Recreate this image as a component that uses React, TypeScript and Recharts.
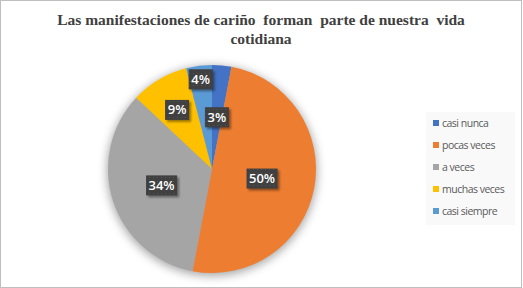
import React from 'react';
import { PieChart, Pie, Cell, Legend } from 'recharts';

const categories = ['casi nunca', 'pocas veces', 'a veces', 'muchas veces', 'casi siempre'];
const values = [3, 50, 34, 9, 4];
const colors = ['#4472C4', '#ED7D31', '#A5A5A5', '#FFC000', '#5B9BD5'];
const titleLines = ['Las manifestaciones de cariño  forman  parte de nuestra  vida', 'cotidiana'];

// how far out each data label sits (share of the radius), Excel "best fit" look
const labelDistance = [0.5, 0.49, 0.51, 0.66, 0.87];

const data = categories.map((name, i) => ({ name, value: values[i] }));
const shadowData = [{ name: 'shadow', value: 1 }];

const RAD = Math.PI / 180;

const renderLabel = (props: any) => {
    const { cx, cy, midAngle, outerRadius, index, value } = props;
    const r = outerRadius * labelDistance[index];
    const x = cx + r * Math.cos(-midAngle * RAD);
    const y = cy + r * Math.sin(-midAngle * RAD);
    const text = `${value}%`;
    const w = text.length * 7 + 10;
    const h = 20;
    return (
        <g>
            <rect x={x - w / 2 + 2} y={y - h / 2 + 2} width={w} height={h} fill="#000" opacity={0.4} filter="url(#lblShadow)" />
            <rect x={x - w / 2} y={y - h / 2} width={w} height={h} fill="#404040" />
            <rect x={x - w / 2} y={y - h / 2} width={w} height={h} fill="url(#dots)" />
            <text
                x={x}
                y={y + 1}
                fill="#fff"
                fontSize={13}
                fontWeight={600}
                fontFamily="'Open Sans', sans-serif"
                textAnchor="middle"
                dominantBaseline="middle"
            >
                {text}
            </text>
        </g>
    );
};

const renderLegend = () => (
    <div style={{ background: '#f9f9f9', width: 89, height: 113 }}>
        {categories.map((c, i) => (
            <div key={c} style={{ height: 22, display: 'flex', alignItems: 'center', paddingLeft: 7 }}>
                <span style={{ width: 6, height: 6, background: colors[i], marginRight: 3, display: 'inline-block' }} />
                <span style={{ fontSize: 10.5, color: '#595959', fontFamily: "'Open Sans', sans-serif", letterSpacing: -0.5, whiteSpace: 'nowrap' }}>
                    {c}
                </span>
            </div>
        ))}
    </div>
);

export default function App() {
    return (
        <div style={{ position: 'absolute', left: 0, top: 0, width: 523, height: 288, background: '#fff' }}>
            <div
                style={{
                    position: 'absolute',
                    left: 0,
                    top: 0,
                    width: 522,
                    height: 288,
                    boxSizing: 'border-box',
                    border: '1px solid #bfbfbf'
                }}
            />
            <div
                style={{
                    position: 'absolute',
                    top: 10,
                    left: 0,
                    width: 522,
                    textAlign: 'center',
                    fontFamily: "'Liberation Serif', serif",
                    fontWeight: 'bold',
                    fontSize: 15.5,
                    lineHeight: '19px',
                    color: '#404040',
                    whiteSpace: 'pre'
                }}
            >
                {titleLines[0]}
                <br />
                {titleLines[1]}
            </div>
            <PieChart
                width={523}
                height={288}
                margin={{ top: 0, right: 0, bottom: 0, left: 0 }}
                style={{ position: 'absolute', left: 0, top: 0 }}
            >
                <defs>
                    <filter id="pieShadow" x="-20%" y="-20%" width="140%" height="140%">
                        <feGaussianBlur stdDeviation="5" />
                    </filter>
                    <filter id="lblShadow" x="-30%" y="-30%" width="160%" height="160%">
                        <feGaussianBlur stdDeviation="1.2" />
                    </filter>
                    <pattern id="dots" width="4" height="4" patternUnits="userSpaceOnUse">
                        <rect x="1" y="1" width="1" height="1" fill="#555" />
                    </pattern>
                </defs>
                <Pie
                    data={shadowData}
                    dataKey="value"
                    cx={212}
                    cy={171}
                    outerRadius={105}
                    startAngle={90}
                    endAngle={-270}
                    stroke="none"
                    legendType="none"
                    isAnimationActive={false}
                >
                    <Cell fill="#000" fillOpacity={0.35} filter="url(#pieShadow)" />
                </Pie>
                <Pie
                    data={data}
                    dataKey="value"
                    nameKey="name"
                    cx={212}
                    cy={169}
                    outerRadius={104}
                    startAngle={90}
                    endAngle={-270}
                    stroke="none"
                    label={renderLabel}
                    labelLine={false}
                    isAnimationActive={false}
                >
                    {data.map((d, i) => (
                        <Cell key={d.name} fill={colors[i]} />
                    ))}
                </Pie>
                <Legend
                    content={renderLegend}
                    wrapperStyle={{ left: 426, top: 112, width: 89, height: 113 }}
                />
            </PieChart>
        </div>
    );
}
